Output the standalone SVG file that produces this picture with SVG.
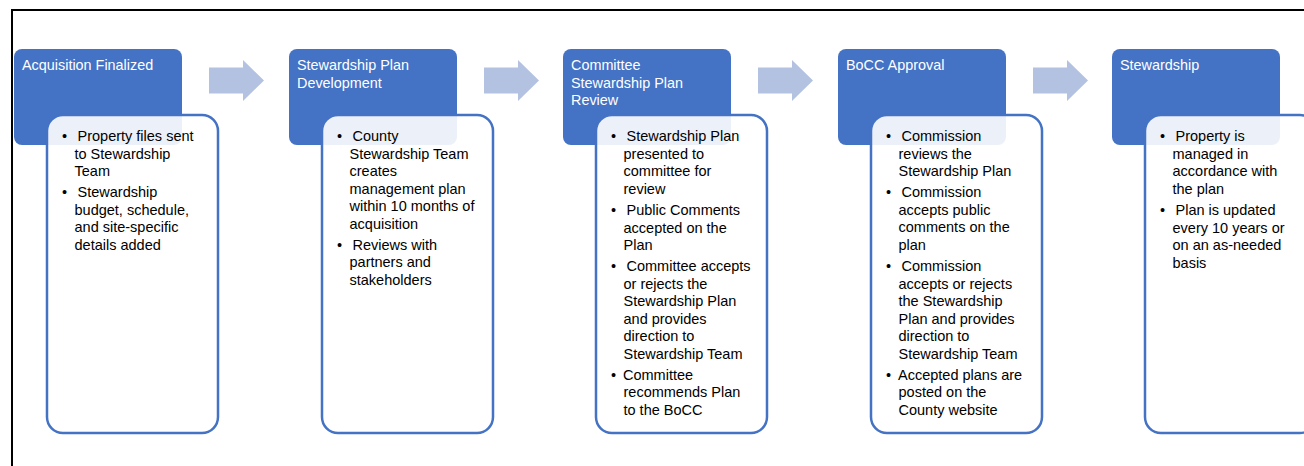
<svg xmlns="http://www.w3.org/2000/svg" width="1304" height="466" viewBox="0 0 1304 466">
  <style>
    .head { fill: #4472C4; }
    .body { fill: #FFFFFF; fill-opacity: 0.9; stroke: #4472C4; stroke-width: 2.5; }
    .step { fill: #B4C2E2; }
    .title { font-family: "Liberation Sans", Arial, sans-serif; font-size: 14.4px; fill: #FFFFFF; }
    .item { font-family: "Liberation Sans", Arial, sans-serif; font-size: 14.5px; fill: #000000; }
  </style>
  <defs>
    <polygon id="chevron" points="0,7.5 34,7.5 34,0 55,20.5 34,41 34,33.5 0,33.5"/>
  </defs>

  <rect width="1304" height="466" fill="#FFFFFF"/>
  <!-- outer frame -->
  <rect x="12" y="10" width="1300" height="470" fill="none" stroke="#000000" stroke-width="2"/>

  <!-- step arrows between stages -->
  <g id="connectors">
    <use href="#chevron" class="step" x="209" y="60"/>
    <use href="#chevron" class="step" x="484" y="60"/>
    <use href="#chevron" class="step" x="758" y="60"/>
    <use href="#chevron" class="step" x="1033" y="60"/>
  </g>

  <g id="acquisition-finalized">
    <rect class="head" x="14" y="49" width="168" height="96" rx="8"/>
    <text class="title" x="22" y="70">Acquisition Finalized</text>
    <rect class="body" x="47" y="115" width="171" height="318" rx="16"/>
    <g class="item">
      <text x="62" y="141">•</text>
      <text x="77.5" y="141">Property files sent</text>
      <text x="74.5" y="158.5">to Stewardship</text>
      <text x="74.5" y="176">Team</text>
      <text x="62" y="197">•</text>
      <text x="77.5" y="197">Stewardship</text>
      <text x="74.5" y="214.5">budget, schedule,</text>
      <text x="74.5" y="232">and site-specific</text>
      <text x="74.5" y="249.5">details added</text>
    </g>
  </g>

  <g id="plan-development">
    <rect class="head" x="289" y="49" width="168" height="96" rx="8"/>
    <text class="title" x="297" y="70">Stewardship Plan</text>
    <text class="title" x="297" y="87.5">Development</text>
    <rect class="body" x="322" y="115" width="171" height="318" rx="16"/>
    <g class="item">
      <text x="337" y="141">•</text>
      <text x="352.5" y="141">County</text>
      <text x="349.5" y="158.5">Stewardship Team</text>
      <text x="349.5" y="176">creates</text>
      <text x="349.5" y="193.5">management plan</text>
      <text x="349.5" y="211">within 10 months of</text>
      <text x="349.5" y="228.5">acquisition</text>
      <text x="337" y="249.5">•</text>
      <text x="352.5" y="249.5">Reviews with</text>
      <text x="349.5" y="267">partners and</text>
      <text x="349.5" y="284.5">stakeholders</text>
    </g>
  </g>

  <g id="committee-review">
    <rect class="head" x="563" y="49" width="168" height="96" rx="8"/>
    <text class="title" x="571" y="70">Committee</text>
    <text class="title" x="571" y="87.5">Stewardship Plan</text>
    <text class="title" x="571" y="105">Review</text>
    <rect class="body" x="596" y="115" width="171" height="318" rx="16"/>
    <g class="item">
      <text x="611" y="141">•</text>
      <text x="626.5" y="141">Stewardship Plan</text>
      <text x="623.5" y="158.5">presented to</text>
      <text x="623.5" y="176">committee for</text>
      <text x="623.5" y="193.5">review</text>
      <text x="611" y="215">•</text>
      <text x="626.5" y="215">Public Comments</text>
      <text x="623.5" y="232.5">accepted on the</text>
      <text x="623.5" y="250">Plan</text>
      <text x="611" y="271">•</text>
      <text x="626.5" y="271">Committee accepts</text>
      <text x="623.5" y="288.5">or rejects the</text>
      <text x="623.5" y="306">Stewardship Plan</text>
      <text x="623.5" y="323.5">and provides</text>
      <text x="623.5" y="341">direction to</text>
      <text x="623.5" y="358.5">Stewardship Team</text>
      <text x="611" y="379.5">•</text>
      <text x="623" y="379.5">Committee</text>
      <text x="623.5" y="397">recommends Plan</text>
      <text x="623.5" y="414.5">to the BoCC</text>
    </g>
  </g>

  <g id="bocc-approval">
    <rect class="head" x="838" y="49" width="168" height="96" rx="8"/>
    <text class="title" x="846" y="70">BoCC Approval</text>
    <rect class="body" x="871" y="115" width="171" height="318" rx="16"/>
    <g class="item">
      <text x="886" y="141">•</text>
      <text x="901.5" y="141">Commission</text>
      <text x="898.5" y="158.5">reviews the</text>
      <text x="898.5" y="176">Stewardship Plan</text>
      <text x="886" y="197">•</text>
      <text x="901.5" y="197">Commission</text>
      <text x="898.5" y="214.5">accepts public</text>
      <text x="898.5" y="232">comments on the</text>
      <text x="898.5" y="249.5">plan</text>
      <text x="886" y="271">•</text>
      <text x="901.5" y="271">Commission</text>
      <text x="898.5" y="288.5">accepts or rejects</text>
      <text x="898.5" y="306">the Stewardship</text>
      <text x="898.5" y="323.5">Plan and provides</text>
      <text x="898.5" y="341">direction to</text>
      <text x="898.5" y="358.5">Stewardship Team</text>
      <text x="886" y="379.5">•</text>
      <text x="898" y="379.5">Accepted plans are</text>
      <text x="898.5" y="397">posted on the</text>
      <text x="898.5" y="414.5">County website</text>
    </g>
  </g>

  <g id="stewardship">
    <rect class="head" x="1112" y="49" width="168" height="96" rx="8"/>
    <text class="title" x="1120" y="70">Stewardship</text>
    <rect class="body" x="1145" y="115" width="171" height="318" rx="16"/>
    <g class="item">
      <text x="1160" y="141">•</text>
      <text x="1175.5" y="141">Property is</text>
      <text x="1172.5" y="158.5">managed in</text>
      <text x="1172.5" y="176">accordance with</text>
      <text x="1172.5" y="193.5">the plan</text>
      <text x="1160" y="215">•</text>
      <text x="1175.5" y="215">Plan is updated</text>
      <text x="1172.5" y="232.5">every 10 years or</text>
      <text x="1172.5" y="250">on an as-needed</text>
      <text x="1172.5" y="267.5">basis</text>
    </g>
  </g>
</svg>
